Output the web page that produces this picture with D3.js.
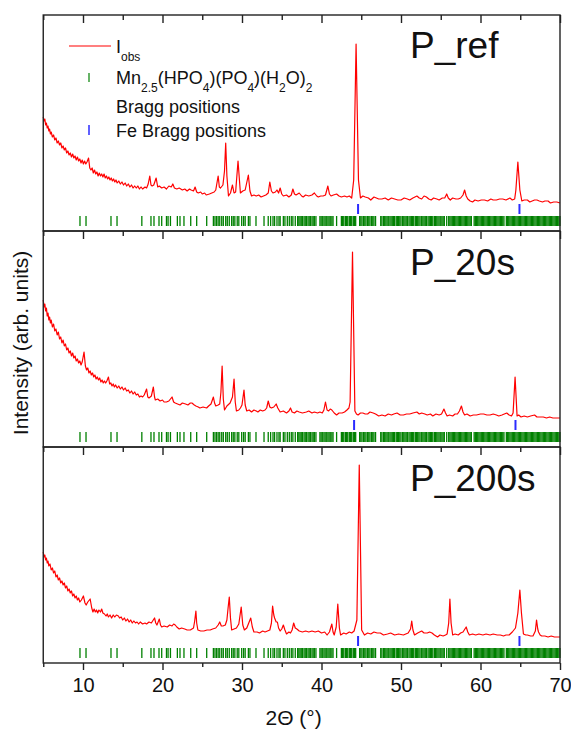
<!DOCTYPE html>
<html>
<head>
<meta charset="utf-8">
<script src="https://cdn.jsdelivr.net/npm/d3@7"></script>
<style>
  body { margin: 0; background: #fff; }
  text { font-family: "Liberation Sans", Arial, sans-serif; fill: #111; }
</style>
</head>
<body>
<script>
// 2theta / intensity pairs (intensity in arb. units)
var p_ref = [
  [5.0,114],[5.1,110],[5.2,112],[5.3,106],[5.4,108],[5.5,103],[5.6,105],[5.7,100],[5.8,102],[5.9,97],
  [6.0,99],[6.15,94],[6.3,96],[6.45,91],[6.6,93],[6.75,88],[6.9,90],[7.05,86],[7.2,88],[7.35,83],
  [7.5,85],[7.65,81],[7.8,83],[7.95,78],[8.1,80],[8.25,76],[8.4,78],[8.55,74],[8.7,77],[8.85,73],
  [9.0,75],[9.15,71],[9.3,74],[9.45,70],[9.6,72],[9.75,68],[9.9,71],[10.05,67],[10.2,70],[10.35,67],
  [10.5,69],[10.7,73],[10.85,63],[11.0,61],[11.15,63],[11.3,58],[11.45,61],[11.6,57],[11.75,59],[11.9,55],
  [12.05,58],[12.2,55],[12.35,57],[12.5,54],[12.65,57],[12.8,53],[12.95,55],[13.1,52],[13.25,54],[13.4,51],
  [13.55,53],[13.7,50],[13.85,52],[14.0,49],[14.15,51],[14.3,48],[14.5,50],[14.7,47],[14.9,49],[15.1,46],
  [15.3,48],[15.5,45],[15.7,47],[15.9,44],[16.1,46],[16.3,43],[16.5,45],[16.7,43],[16.9,45],[17.1,42],
  [17.3,44],[17.5,42],[17.8,44],[18.0,43],[18.2,47],[18.4,55],[18.55,46],[18.7,45],[18.9,46],[19.2,53],
  [19.4,44],[19.6,45],[19.9,43],[20.2,44],[20.5,42],[20.8,45],[21.1,44],[21.3,47],[21.5,43],[21.8,42],
  [22.1,43],[22.5,41],[22.8,42],[23.1,40],[23.4,42],[23.6,41],[23.9,40],[24.1,44],[24.3,39],[24.5,38],
  [24.8,39],[25.0,37],[25.3,38],[25.5,36],[25.9,37],[26.2,38],[26.5,39],[26.7,41],[27.0,55],[27.15,44],
  [27.3,43],[27.6,46],[27.8,60],[27.95,88],[28.1,55],[28.3,35],[28.55,38],[28.8,46],[29.0,38],[29.2,39],
  [29.5,70],[29.8,38],[30.1,40],[30.4,41],[30.8,56],[31.0,40],[31.2,35],[31.5,36],[31.8,35],[32.1,36],
  [32.4,34],[32.7,35],[33.0,36],[33.3,38],[33.5,49],[33.7,40],[33.9,38],[34.2,39],[34.4,41],[34.6,38],
  [34.8,43],[35.0,37],[35.2,35],[35.6,36],[35.9,34],[36.2,36],[36.4,42],[36.6,37],[36.8,36],[37.2,38],
  [37.5,35],[37.7,34],[38.0,36],[38.4,35],[38.8,36],[39.1,38],[39.4,35],[39.6,34],[39.9,35],[40.2,35],
  [40.5,36],[40.8,45],[41.0,37],[41.2,35],[41.5,36],[41.9,37],[42.2,35],[42.5,34],[42.9,35],[43.2,34],
  [43.5,35],[43.8,33],[44.05,51],[44.35,187],[44.65,51],[44.9,33],[45.2,35],[45.5,34],[45.9,33],[46.2,31],
  [46.6,34],[46.9,33],[47.2,32],[47.6,32],[48.0,33],[48.4,31],[48.8,33],[49.2,32],[49.6,31],[50.0,31],
  [50.4,33],[50.8,32],[51.1,31],[51.5,33],[52.0,35],[52.3,33],[52.6,32],[52.9,35],[53.2,34],[53.5,32],
  [53.8,31],[54.1,33],[54.5,32],[54.8,31],[55.2,33],[55.5,33],[55.75,37],[55.95,33],[56.2,31],[56.5,33],
  [56.9,32],[57.2,32],[57.5,33],[57.8,36],[58.0,41],[58.2,35],[58.4,32],[58.7,30],[59.0,29],[59.3,31],
  [59.7,30],[60.1,31],[60.5,31],[60.9,30],[61.3,32],[61.6,31],[62.0,31],[62.4,32],[62.8,32],[63.2,31],
  [63.7,33],[64.0,31],[64.3,32],[64.45,41],[64.7,69],[64.95,41],[65.2,30],[65.5,31],[65.9,31],[66.2,29],
  [66.5,30],[66.8,31],[67.1,31],[67.4,30],[67.8,29],[68.1,30],[68.5,30],[68.8,28],[69.2,29],[69.6,29],
  [70.0,28]
];
var p_20s = [
  [5.0,147],[5.1,140],[5.2,143],[5.3,136],[5.4,139],[5.5,131],[5.6,134],[5.7,127],[5.8,130],[5.9,124],
  [6.0,127],[6.15,120],[6.3,123],[6.45,116],[6.6,118],[6.75,112],[6.9,115],[7.05,108],[7.2,110],[7.35,104],
  [7.5,107],[7.65,101],[7.8,103],[7.95,97],[8.1,99],[8.25,94],[8.4,96],[8.55,91],[8.7,94],[8.85,89],
  [9.0,91],[9.15,86],[9.3,88],[9.45,84],[9.6,86],[9.75,82],[9.9,85],[10.13,95],[10.3,81],[10.45,77],
  [10.6,79],[10.75,74],[10.9,76],[11.05,72],[11.2,74],[11.35,70],[11.5,72],[11.65,68],[11.8,70],[11.95,67],
  [12.1,69],[12.25,65],[12.4,67],[12.55,64],[12.7,66],[12.85,64],[13.0,66],[13.2,70],[13.35,63],[13.5,64],
  [13.65,61],[13.8,63],[13.95,60],[14.1,62],[14.3,59],[14.5,61],[14.7,58],[14.9,60],[15.1,57],[15.3,59],
  [15.5,56],[15.7,57],[15.9,54],[16.1,56],[16.3,53],[16.5,55],[16.7,52],[16.9,53],[17.1,50],[17.3,51],
  [17.5,50],[17.7,52],[18.0,58],[18.15,50],[18.3,49],[18.6,51],[18.85,60],[19.0,50],[19.1,47],[19.4,48],
  [19.7,46],[20.0,47],[20.2,45],[20.5,45],[20.8,46],[21.0,48],[21.2,50],[21.4,45],[21.6,44],[21.9,43],
  [22.2,42],[22.5,44],[22.9,43],[23.2,42],[23.5,44],[23.7,44],[24.0,42],[24.2,41],[24.5,40],[24.7,39],
  [25.1,40],[25.55,39],[25.8,41],[26.1,43],[26.4,50],[26.55,44],[26.7,41],[27.0,42],[27.2,43],[27.35,55],
  [27.5,81],[27.65,48],[27.8,37],[28.1,41],[28.5,44],[28.8,50],[29.0,68],[29.15,45],[29.3,36],[29.6,37],
  [29.8,39],[30.0,42],[30.25,57],[30.4,42],[30.6,36],[30.9,37],[31.2,35],[31.5,37],[31.8,36],[32.0,35],
  [32.3,37],[32.6,36],[32.9,37],[33.1,39],[33.3,46],[33.5,40],[33.7,39],[34.0,40],[34.3,43],[34.5,39],
  [34.8,35],[35.2,36],[35.6,34],[35.9,36],[36.1,39],[36.3,35],[36.6,34],[36.9,36],[37.2,35],[37.6,34],
  [38.1,35],[38.4,36],[38.8,34],[39.1,35],[39.5,34],[39.8,35],[40.1,34],[40.3,37],[40.5,45],[40.7,37],
  [40.9,36],[41.1,38],[41.3,37],[41.6,34],[41.9,32],[42.2,34],[42.6,34],[42.9,35],[43.2,37],[43.45,39],
  [43.6,45],[43.9,195],[44.2,36],[44.4,33],[44.6,32],[44.9,34],[45.2,34],[45.5,33],[45.8,33],[46.1,35],
  [46.5,34],[46.8,33],[47.2,31],[47.6,32],[48.0,31],[48.4,33],[48.8,32],[49.1,33],[49.5,34],[49.9,32],
  [50.3,32],[50.7,33],[51.1,33],[51.5,34],[52.0,35],[52.3,33],[52.6,34],[53.0,33],[53.3,32],[53.7,33],
  [54.0,31],[54.4,33],[54.8,32],[55.1,33],[55.4,38],[55.6,34],[55.8,31],[56.1,32],[56.5,31],[56.8,33],
  [57.1,33],[57.35,36],[57.6,41],[57.8,35],[58.0,32],[58.3,33],[58.7,31],[59.1,32],[59.5,32],[60.0,33],
  [60.4,33],[60.8,32],[61.2,32],[61.6,33],[62.0,32],[62.3,31],[62.7,32],[63.0,33],[63.3,34],[63.6,32],
  [63.9,31],[64.1,34],[64.35,70],[64.6,31],[64.8,32],[65.1,30],[65.5,31],[65.9,30],[66.3,31],[66.8,32],
  [67.1,30],[67.5,30],[67.9,30],[68.3,29],[68.7,30],[69.1,29],[69.5,29],[70.0,29]
];
var p_200s = [
  [5.0,111],[5.1,106],[5.2,108],[5.3,103],[5.4,105],[5.5,100],[5.6,102],[5.7,97],[5.85,99],[6.0,93],
  [6.15,95],[6.3,90],[6.45,92],[6.6,86],[6.75,88],[6.9,83],[7.05,85],[7.2,80],[7.35,82],[7.5,78],
  [7.65,80],[7.8,75],[7.95,77],[8.1,72],[8.25,74],[8.4,70],[8.55,72],[8.7,67],[8.85,69],[9.0,65],
  [9.15,67],[9.3,63],[9.45,65],[9.6,61],[9.8,63],[10.05,67],[10.25,60],[10.4,58],[10.6,61],[10.9,64],
  [11.1,55],[11.25,51],[11.4,54],[11.55,51],[11.7,53],[11.85,50],[12.0,53],[12.2,51],[12.35,54],[12.5,50],
  [12.7,49],[12.9,47],[13.05,49],[13.2,46],[13.4,48],[13.6,45],[13.8,48],[14.0,46],[14.2,48],[14.45,47],
  [14.6,45],[14.8,46],[15.0,43],[15.2,45],[15.4,42],[15.6,44],[15.8,41],[16.0,43],[16.2,40],[16.4,42],
  [16.6,40],[16.8,41],[17.0,39],[17.2,41],[17.5,39],[17.8,40],[18.0,39],[18.3,41],[18.6,40],[19.0,45],
  [19.15,40],[19.3,38],[19.6,44],[19.75,38],[19.9,36],[20.2,37],[20.6,36],[20.9,38],[21.2,37],[21.4,39],
  [21.6,38],[21.8,36],[22.1,34],[22.4,35],[22.8,34],[23.1,33],[23.5,33],[23.7,34],[23.9,35],[24.05,42],
  [24.2,52],[24.3,40],[24.45,33],[24.8,32],[25.2,32],[25.6,33],[26.0,33],[26.3,34],[26.7,35],[27.0,38],
  [27.2,41],[27.4,37],[27.6,37],[27.9,38],[28.1,43],[28.25,55],[28.4,66],[28.55,45],[28.7,33],[29.0,34],
  [29.3,35],[29.6,39],[29.9,56],[30.1,38],[30.3,33],[30.6,35],[30.8,39],[31.1,45],[31.3,36],[31.5,31],
  [31.9,31],[32.2,30],[32.6,32],[32.9,31],[33.2,32],[33.5,33],[33.7,40],[33.85,57],[34.0,48],[34.1,45],
  [34.3,41],[34.45,41],[34.6,35],[34.8,32],[35.0,34],[35.2,38],[35.4,33],[35.6,29],[35.9,31],[36.1,30],
  [36.3,33],[36.5,40],[36.7,35],[36.9,34],[37.2,32],[37.6,31],[38.0,32],[38.4,31],[38.8,32],[39.2,31],
  [39.6,32],[40.0,30],[40.4,31],[40.7,28],[41.0,31],[41.3,39],[41.45,31],[41.6,28],[41.85,36],[42.05,59],
  [42.25,35],[42.4,28],[42.8,30],[43.1,29],[43.5,31],[43.8,30],[44.1,32],[44.45,43],[44.75,198],[45.05,33],
  [45.4,28],[45.8,30],[46.2,29],[46.6,31],[47.0,30],[47.4,30],[47.8,28],[48.3,29],[48.7,30],[49.2,28],
  [49.7,29],[50.3,28],[50.6,29],[50.9,30],[51.2,34],[51.35,42],[51.5,33],[51.7,28],[52.1,30],[52.6,32],
  [52.9,30],[53.3,30],[53.6,31],[53.9,30],[54.2,28],[54.6,26],[54.9,28],[55.3,27],[55.6,28],[55.8,29],
  [56.0,40],[56.15,64],[56.3,40],[56.5,28],[56.8,29],[57.2,28],[57.5,30],[57.8,31],[58.2,36],[58.4,31],
  [58.6,28],[59.0,29],[59.4,28],[59.8,29],[60.3,28],[60.7,29],[61.2,28],[61.6,29],[62.1,28],[62.5,28],
  [62.9,27],[63.2,28],[63.6,28],[64.0,31],[64.4,35],[64.7,50],[64.95,73],[65.15,50],[65.4,29],[65.7,28],
  [65.9,28],[66.3,27],[66.6,27],[66.9,32],[67.05,43],[67.2,34],[67.3,31],[67.5,28],[67.7,27],[68.1,27],
  [68.5,26],[68.9,27],[69.3,26],[69.7,26],[70.0,26]
];

// Bragg reflections
var mn_bragg = [
  9.62,10.38,13.52,14.28,17.4,18.55,18.93,19.56,19.9,20.5,20.7,21.0,21.87,22.2,22.7,23.55,24.3,25.56,
  26.4,26.6,26.8,27.0,27.2,27.45,27.65,27.95,28.15,28.4,28.7,28.9,29.1,29.4,29.6,29.96,30.2,30.4,30.8,31.0,
  31.76,32.77,33.3,33.6,33.9,34.1,34.4,34.65,34.8,35.2,35.4,35.7,35.95,36.2,36.4,36.7,37.0,37.15,
  37.3,37.45,37.6,37.8,37.95,38.1,38.3,38.45,38.6,38.8,38.95,39.1,39.3,
  39.8,39.95,40.1,40.3,40.45,40.6,40.8,40.95,41.1,41.3,41.45,41.9,
  42.5,42.65,42.8,43.0,43.15,43.3,43.5,43.65,43.8,44.0,44.15,44.3,44.8,44.95,45.1,45.3,45.45,45.6,45.8,
  45.95,46.1,46.3,46.45,46.6,46.8,
  47.45,47.6,47.8,47.95,48.1,48.25,48.4,48.6,48.75,48.9,49.05,49.2,49.4,49.55,49.7,49.85,50.0,50.2,50.35,
  50.5,50.65,50.8,51.0,51.15,51.3,51.45,51.6,51.8,51.95,52.1,52.25,52.4,52.6,52.75,52.9,53.05,53.2,53.4,
  53.55,53.7,53.85,54.0,54.2,54.35,54.5,54.65,54.8,55.0,55.15,55.3,55.45,55.75,
  56.0,56.15,56.3,56.45,56.6,56.75,56.9,57.05,57.2,57.35,57.5,57.65,57.8,57.95,58.1,58.25,58.4,58.55,
  58.7,58.85,59.2,59.35,59.5,59.65,59.8,59.95,60.1,60.25,60.4,60.55,60.7,60.85,61.0,61.15,61.3,61.45,
  61.6,61.75,61.9,62.05,62.2,62.35,62.5,62.65,62.8,62.95,63.25,63.4,63.55,63.7,63.85,64.0,64.15,64.3,
  64.45,64.6,64.75,64.9,65.05,65.2,65.35,65.5,65.65,65.8,65.95,66.1,66.25,66.4,66.55,66.7,66.85,67.0,
  67.15,67.3,67.45,67.6,67.75,67.9,68.05,68.2,68.35,68.5,68.65,68.8,68.95,69.1,69.25,69.4,69.55,69.7,
  69.85,70.0
];
var fe_bragg = [44.6, 64.9];
var fe_bragg_20s = [44.1, 64.4];

var samples = ['P_ref', 'P_20s', 'P_200s'];
var majorTicks = [10, 20, 30, 40, 50, 60, 70];
var minorTicks = [5, 15, 25, 35, 45, 55, 65];

var panels = [
  {name: samples[0], data: p_ref, fe: fe_bragg},
  {name: samples[1], data: p_20s, fe: fe_bragg_20s},
  {name: samples[2], data: p_200s, fe: fe_bragg}
];

var width = 571, height = 733;
var left = 43.25, right = 560, top0 = 15, panel_h = 216;

var svg = d3.select('body').append('svg')
    .attr('width', width)
    .attr('height', height);

var x = d3.scaleLinear().domain([5, 70]).range([left, right]);

var line_color = '#ff0000', mn_color = '#008000', fe_color = '#2b2bff';

panels.forEach(function(p, i) {
  var top = top0 + i * panel_h, bottom = top + panel_h;
  var y = d3.scaleLinear().domain([0, panel_h]).range([bottom, top]);
  var g = svg.append('g').attr('class', 'panel');

  // Bragg ticks of the phosphate
  g.selectAll('.mn').data(mn_bragg).enter().append('line')
      .attr('x1', d => x(d)).attr('x2', d => x(d))
      .attr('y1', y(5)).attr('y2', y(15))
      .attr('stroke', mn_color).attr('stroke-width', 1.3);

  // Fe ticks
  g.selectAll('.fe').data(p.fe).enter().append('line')
      .attr('x1', d => x(d)).attr('x2', d => x(d))
      .attr('y1', y(17)).attr('y2', y(27))
      .attr('stroke', fe_color).attr('stroke-width', 2);

  // observed pattern
  g.append('path').datum(p.data)
      .attr('fill', 'none')
      .attr('stroke', line_color)
      .attr('stroke-width', 1.2)
      .attr('stroke-linejoin', 'round')
      .attr('d', d3.line().x(d => x(d[0])).y(d => y(d[1])));

  // frame
  g.append('rect')
      .attr('x', left).attr('y', top)
      .attr('width', right - left).attr('height', panel_h)
      .attr('fill', 'none').attr('stroke', '#222').attr('stroke-width', 1.4);

  // inward ticks on top edge
  var tmaj = g.append('g').attr('transform', 'translate(0,' + top + ')')
      .call(d3.axisBottom(x).tickValues(majorTicks).tickSize(8).tickFormat(''));
  var tmin = g.append('g').attr('transform', 'translate(0,' + top + ')')
      .call(d3.axisBottom(x).tickValues(minorTicks).tickSize(5).tickFormat(''));
  [tmaj, tmin].forEach(function(a) {
    a.select('.domain').remove();
    a.selectAll('line').attr('stroke', '#222').attr('stroke-width', 1.4);
  });

  // sample label
  g.append('text').text(p.name)
      .attr('x', 410).attr('y', top + [43, 44, 44][i])
      .style('font-size', '37px');

  if (i === panels.length - 1) {
    var bmaj = g.append('g').attr('transform', 'translate(0,' + bottom + ')')
        .call(d3.axisBottom(x).tickValues(majorTicks).tickSize(7).tickPadding(8).tickFormat(d3.format('d')));
    var bmin = g.append('g').attr('transform', 'translate(0,' + bottom + ')')
        .call(d3.axisBottom(x).tickValues(minorTicks).tickSize(4).tickFormat(''));
    [bmaj, bmin].forEach(function(a) {
      a.select('.domain').remove();
      a.selectAll('line').attr('stroke', '#222').attr('stroke-width', 1.4);
    });
    bmaj.selectAll('text')
        .style('font-size', '20px')
        .style('font-family', '"Liberation Sans", Arial, sans-serif')
        .attr('fill', '#111');
  }
});

// axis titles
svg.append('text').text('2\u0398 (\u00b0)')
    .attr('x', (left + right) / 2 - 8).attr('y', 725)
    .attr('text-anchor', 'middle')
    .style('font-size', '21px');

svg.append('text').text('Intensity (arb. units)')
    .attr('transform', 'translate(28,' + (top0 + 1.5 * panel_h + 4) + ') rotate(-90)')
    .attr('text-anchor', 'middle')
    .style('font-size', '21px');

// legend
var leg = svg.append('g').attr('class', 'legend');
leg.append('line')
    .attr('x1', 69).attr('x2', 111).attr('y1', 46).attr('y2', 46)
    .attr('stroke', line_color).attr('stroke-width', 1.2);
var t1 = leg.append('text').attr('x', 116).attr('y', 53).style('font-size', '18px');
t1.append('tspan').text('I');
t1.append('tspan').text('obs').attr('dy', 8).style('font-size', '12px');

leg.append('line')
    .attr('x1', 89).attr('x2', 89).attr('y1', 73).attr('y2', 82)
    .attr('stroke', mn_color).attr('stroke-width', 1.2);
var formula = [['Mn', 0], ['2.5', 1], ['(HPO', 0], ['4', 1], [')(PO', 0], ['4', 1], [')(H', 0], ['2', 1], ['O)', 0], ['2', 1]];
var t2 = leg.append('text').attr('x', 116).attr('y', 84).style('font-size', '18px');
var prev = 0;
formula.forEach(function(f) {
  t2.append('tspan').text(f[0])
      .attr('dy', (f[1] - prev) * 8)
      .style('font-size', f[1] ? '12px' : '18px');
  prev = f[1];
});
leg.append('text').text('Bragg positions')
    .attr('x', 116).attr('y', 113).style('font-size', '18px');

leg.append('line')
    .attr('x1', 89).attr('x2', 89).attr('y1', 125).attr('y2', 135)
    .attr('stroke', fe_color).attr('stroke-width', 1.5);
leg.append('text').text('Fe Bragg positions')
    .attr('x', 116).attr('y', 137).style('font-size', '18px');
</script>
</body>
</html>
